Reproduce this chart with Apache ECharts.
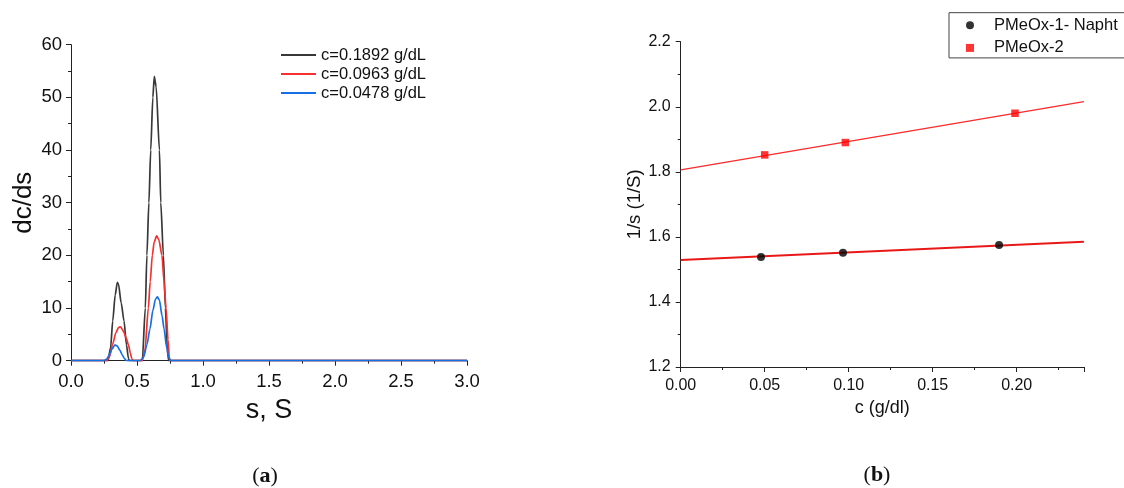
<!DOCTYPE html>
<html>
<head>
<meta charset="utf-8">
<script src="https://cdn.jsdelivr.net/npm/echarts@6/dist/echarts.min.js"></script>
<style>
  html, body { margin: 0; padding: 0; background: #fff; }
  #chart { width: 1124px; height: 488px; }
</style>
</head>
<body>
<div id="chart"></div>
<script>
// (a) sedimentation coefficient distributions, [s, dc/ds]
const distNames = ['c=0.1892 g/dL', 'c=0.0963 g/dL', 'c=0.0478 g/dL']
const distColors = ['#383838', '#f5302f', '#1570e6']
const dist1892 = [
  [0, 0], [0.28, 0], [0.30, 2.5], [0.316, 7.5], [0.335, 12.5], [0.351, 14.9], [0.36, 14.5],
  [0.38, 11], [0.402, 7.5], [0.42, 3], [0.435, 0.5], [0.44, 0],
  [0.54, 0], [0.563, 10], [0.575, 20], [0.59, 30], [0.604, 40], [0.62, 50], [0.631, 54],
  [0.645, 52], [0.67, 40], [0.68, 30], [0.70, 20], [0.715, 10], [0.73, 2], [0.74, 0], [3.0, 0]
]
const dist0963 = [
  [0, 0], [0.27, 0], [0.29, 0.6], [0.316, 3.2], [0.34, 5.3], [0.36, 6.3], [0.375, 6.45],
  [0.39, 5.9], [0.40, 5.4], [0.42, 4.2], [0.435, 3.0], [0.45, 1.4], [0.46, 0.4], [0.47, 0],
  [0.54, 0], [0.56, 2], [0.586, 10], [0.60, 15], [0.616, 20], [0.63, 22.5], [0.649, 23.7],
  [0.665, 23], [0.689, 20], [0.705, 15], [0.72, 10], [0.735, 4], [0.745, 0.5], [0.75, 0], [3.0, 0]
]
const dist0478 = [
  [0, 0], [0.25, 0], [0.27, 0.3], [0.29, 1.1], [0.31, 2.2], [0.333, 3.0], [0.35, 2.8],
  [0.37, 2.0], [0.39, 1.0], [0.405, 0.4], [0.42, 0],
  [0.525, 0], [0.55, 0.7], [0.575, 3], [0.598, 6], [0.62, 9.5], [0.64, 11.7], [0.655, 12.1],
  [0.67, 11.5], [0.69, 8.5], [0.705, 6], [0.725, 2.5], [0.74, 0.7], [0.755, 0], [3.0, 0]
]

// (b) 1/s vs c, [c, 1/s]
const napht = [[0.0478, 1.538], [0.0966, 1.551], [0.1895, 1.575]]
const pmeox2 = [[0.050, 1.852], [0.098, 1.890], [0.199, 1.980]]
const naphtFit = [[0, 1.529], [0.24, 1.585]]
const pmeox2Fit = [[0, 1.806], [0.24, 2.016]]

const font = 'Liberation Sans, Arial, sans-serif'
const chart = echarts.init(document.getElementById('chart'))

const axisBase = {
  axisLine: { show: true, lineStyle: { color: '#222', width: 1 } },
  axisTick: { show: true, inside: false, length: 5, lineStyle: { color: '#222' } },
  minorTick: { show: true, splitNumber: 2, length: 3, lineStyle: { color: '#222' } },
  splitLine: { show: false }
}

const option = {
  animation: false,
  backgroundColor: '#fff',
  textStyle: { fontFamily: font },
  grid: [
    { left: 71, top: 44.7, width: 396, height: 316 },
    { left: 680.7, top: 41.7, width: 403.2, height: 325.3 }
  ],
  legend: [
    {
      data: distNames.map(n => ({ name: n, icon: 'rect' })),
      left: 281, top: 45.5, orient: 'vertical', padding: 0,
      itemWidth: 35, itemHeight: 1.8, itemGap: 0,
      textStyle: { fontSize: 16.5, lineHeight: 19, color: '#111', fontFamily: font }
    },
    {
      data: [
        { name: 'PMeOx-1- Napht', icon: 'circle' },
        { name: 'PMeOx-2', icon: 'rect' }
      ],
      left: 949, top: 12.7, orient: 'vertical',
      padding: [4, 40, 1.5, 17],
      itemWidth: 8, itemHeight: 8, itemGap: 5.7,
      borderColor: '#444', borderWidth: 1,
      textStyle: { fontSize: 16.5, lineHeight: 16, color: '#111', fontFamily: font, padding: [0, 0, 0, 15] }
    }
  ],
  xAxis: [
    Object.assign({}, axisBase, {
      gridIndex: 0, type: 'value', min: 0, max: 3, interval: 0.5,
      name: 's, S', nameLocation: 'middle', nameGap: 33,
      nameTextStyle: { fontSize: 27, color: '#111' },
      axisLabel: { fontSize: 18.5, color: '#111', margin: 12, formatter: v => v.toFixed(1) }
    }),
    Object.assign({}, axisBase, {
      gridIndex: 1, type: 'value', min: 0, max: 0.24, interval: 0.05,
      name: 'c (g/dl)', nameLocation: 'middle', nameGap: 31,
      nameTextStyle: { fontSize: 18, color: '#111' },
      axisLabel: { fontSize: 16, color: '#111', margin: 11, showMaxLabel: false, formatter: v => v.toFixed(2) }
    })
  ],
  yAxis: [
    Object.assign({}, axisBase, {
      gridIndex: 0, type: 'value', min: 0, max: 60, interval: 10,
      name: 'dc/ds', nameLocation: 'middle', nameGap: 34,
      nameTextStyle: { fontSize: 26, color: '#111' },
      axisLabel: { fontSize: 18.5, color: '#111', margin: 9 }
    }),
    Object.assign({}, axisBase, {
      gridIndex: 1, type: 'value', min: 1.2, max: 2.2, interval: 0.2,
      name: '1/s (1/S)', nameLocation: 'middle', nameGap: 36,
      nameTextStyle: { fontSize: 18.5, color: '#111' },
      axisLabel: { fontSize: 16, color: '#111', margin: 10, formatter: v => v.toFixed(1) }
    })
  ],
  series: [
    { name: distNames[0], data: dist1892 },
    { name: distNames[1], data: dist0963 },
    { name: distNames[2], data: dist0478 }
  ].map((s, i) => ({
    name: s.name, type: 'line', xAxisIndex: 0, yAxisIndex: 0,
    data: s.data, symbol: 'none', smooth: 0.25, smoothMonotone: 'x',
    lineStyle: { color: distColors[i], width: 1.7 }, itemStyle: { color: distColors[i] },
    z: 2 + i
  })).concat([
    {
      name: 'naphtFit', type: 'line', xAxisIndex: 1, yAxisIndex: 1,
      data: naphtFit, symbol: 'none', lineStyle: { color: '#e81818', width: 1.8 }, z: 3
    },
    {
      name: 'pmeox2Fit', type: 'line', xAxisIndex: 1, yAxisIndex: 1,
      data: pmeox2Fit, symbol: 'none', lineStyle: { color: '#ff2a2a', width: 1.3 }, z: 3
    },
    {
      name: 'PMeOx-1- Napht', type: 'scatter', xAxisIndex: 1, yAxisIndex: 1,
      data: napht, symbol: 'circle', symbolSize: 8, itemStyle: { color: '#000' }, z: 4
    },
    {
      name: 'PMeOx-2', type: 'scatter', xAxisIndex: 1, yAxisIndex: 1,
      data: pmeox2, symbol: 'rect', symbolSize: 7.5, itemStyle: { color: '#ff0000' }, z: 4
    }
  ]),
  graphic: [
    {
      type: 'text', x: 265, y: 476,
      style: {
        text: '({b|a})', font: '22px "Liberation Serif", serif', fill: '#111',
        align: 'center', verticalAlign: 'middle',
        rich: { b: { fontWeight: 'bold', fontSize: 22, fontFamily: 'Liberation Serif' } }
      }
    },
    {
      type: 'text', x: 877, y: 475,
      style: {
        text: '({b|b})', font: '22px "Liberation Serif", serif', fill: '#111',
        align: 'center', verticalAlign: 'middle',
        rich: { b: { fontWeight: 'bold', fontSize: 22, fontFamily: 'Liberation Serif' } }
      }
    }
  ]
}

chart.setOption(option)
</script>
</body>
</html>
